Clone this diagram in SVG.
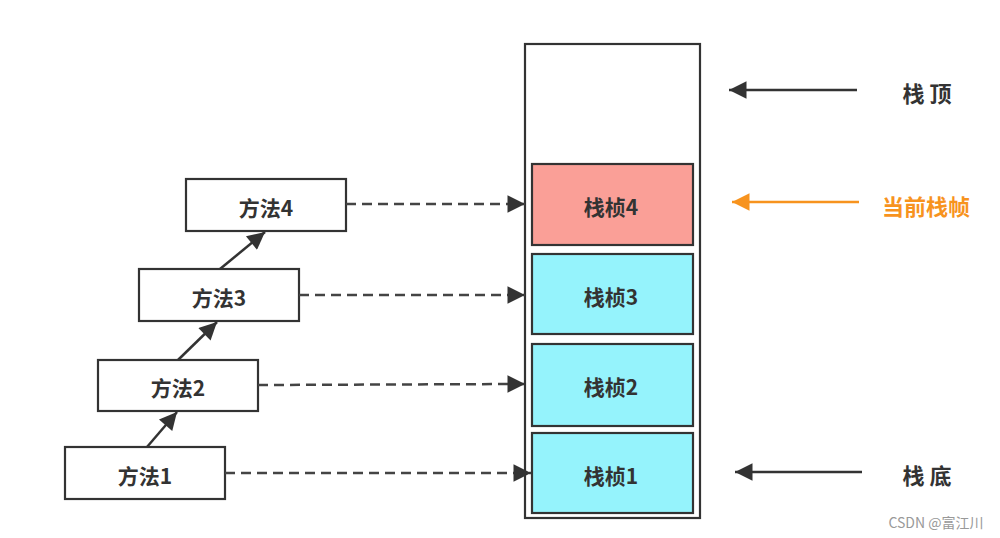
<svg xmlns="http://www.w3.org/2000/svg" width="1000" height="538" viewBox="0 0 1000 538">
<defs>
<style>
.box{fill:#fff;stroke:#333;stroke-width:2.2}
.red{fill:#FA9F97;stroke:#333;stroke-width:2.2}
.cyan{fill:#95F3FC;stroke:#333;stroke-width:2.2}
.t{font-family:"Noto Sans CJK SC","Noto Sans",sans-serif;font-size:21px;font-weight:bold;fill:#333;text-anchor:middle;dominant-baseline:central}
.dash{stroke:#444;stroke-width:2.5;stroke-dasharray:10 6;fill:none}
.solid{stroke:#333;stroke-width:2.5;fill:none}
</style>
<marker id="ah2" viewBox="0 0 10 10" refX="10" refY="5" markerWidth="9" markerHeight="7" orient="auto"><path d="M0,0 L10,5 L0,10 Z" fill="#333"/></marker>
<marker id="ahO" viewBox="0 0 10 10" refX="10" refY="5" markerWidth="9" markerHeight="7" orient="auto"><path d="M0,0 L10,5 L0,10 Z" fill="#F7931E"/></marker>
</defs>
<rect width="1000" height="538" fill="#fff"/>
<g id="stack">
<rect class="box" x="525" y="44" width="175" height="474"/>
</g>
<g id="frame4"><rect class="red" x="532" y="164" width="161" height="81"/><text class="t" x="611" y="206">栈桢4</text></g>
<g id="frame3"><rect class="cyan" x="532" y="254" width="161" height="80"/><text class="t" x="611" y="296">栈桢3</text></g>
<g id="frame2"><rect class="cyan" x="532" y="344" width="161" height="82"/><text class="t" x="611" y="386">栈桢2</text></g>
<g id="frame1"><rect class="cyan" x="532" y="433" width="161" height="80"/><text class="t" x="611" y="475">栈桢1</text></g>
<g id="m4"><rect class="box" x="186" y="179" width="160" height="52"/><text class="t" x="266" y="207">方法4</text></g>
<g id="m3"><rect class="box" x="139" y="269" width="160" height="52"/><text class="t" x="219" y="297">方法3</text></g>
<g id="m2"><rect class="box" x="98" y="360" width="160" height="51"/><text class="t" x="178" y="387">方法2</text></g>
<g id="m1"><rect class="box" x="65" y="447" width="160" height="52"/><text class="t" x="145" y="475">方法1</text></g>
<g id="labels">
<text class="t" x="927" y="92" style="font-size:22px">栈 顶</text>
<text class="t" x="926" y="205" style="font-size:22px;fill:#F7931E">当前栈帧</text>
<text class="t" x="927" y="474" style="font-size:22px">栈 底</text>
<text x="936" y="522" style="font-family:'Noto Sans CJK SC','Noto Sans',sans-serif;font-size:14px;fill:#999;text-anchor:middle;dominant-baseline:central">CSDN @富江川</text>
</g>
<g id="connectors">
<line class="solid" x1="147" y1="447" x2="177" y2="412" marker-end="url(#ah2)"/>
<line class="solid" x1="178" y1="360" x2="217" y2="322" marker-end="url(#ah2)"/>
<line class="solid" x1="220" y1="269" x2="265" y2="232" marker-end="url(#ah2)"/>
<line class="dash" x1="346" y1="204" x2="525" y2="204" marker-end="url(#ah2)"/>
<line class="dash" x1="299" y1="295" x2="525" y2="295" marker-end="url(#ah2)"/>
<line class="dash" x1="258" y1="385" x2="525" y2="384" marker-end="url(#ah2)"/>
<line class="dash" x1="225" y1="473" x2="531" y2="473" marker-end="url(#ah2)"/>
<line class="solid" x1="857" y1="90" x2="729" y2="90" marker-end="url(#ah2)"/>
<line x1="859" y1="202" x2="732" y2="202" stroke="#F7931E" stroke-width="2.5" marker-end="url(#ahO)"/>
<line class="solid" x1="862" y1="472" x2="735" y2="472" marker-end="url(#ah2)"/>
</g>
</svg>
